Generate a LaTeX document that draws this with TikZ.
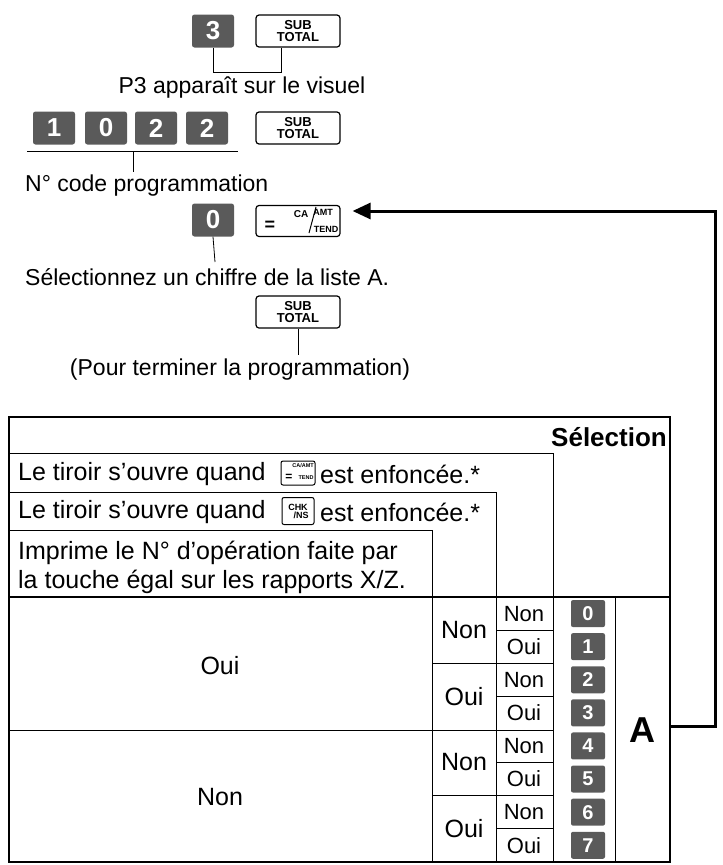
\documentclass[tikz,border=0pt]{standalone}
\usepackage{fontspec}
\setmainfont{Liberation Sans}
\usetikzlibrary{arrows.meta}
\definecolor{keyg}{HTML}{5A5A5A}
\newcommand\apos{\symbol{39}}
\tikzset{
  dkey/.style={fill=keyg,rounded corners=2.5pt,text=white,font=\bfseries\fontsize{26}{26}\selectfont,minimum width=42pt,minimum height=33pt,inner sep=0pt},
  tkey/.style={fill=keyg,rounded corners=2pt,text=white,font=\bfseries\fontsize{20}{20}\selectfont,minimum width=34pt,minimum height=27pt,inner sep=0pt},
  fkey/.style={draw,line width=1.2pt,rounded corners=3pt,minimum width=84pt,minimum height=32pt,inner sep=0pt,align=center,font=\bfseries\fontsize{13}{12.5}\selectfont},
  lbl/.style={font=\fontsize{23}{29}\selectfont,inner sep=0pt},
  tlb/.style={font=\fontsize{25}{29}\selectfont,inner sep=0pt},
  tl/.style={line width=0.8pt},
  tb/.style={line width=1.4pt}
}
\begin{document}
\begin{tikzpicture}[x=1pt,y=-1pt]
\useasboundingbox (0,0) rectangle (723,865);
% step 1
\node[dkey] (k3) at (213,31) {3};
\node[fkey] (s1) at (298,31) {SUB\\TOTAL};
\node[lbl] (t1) at (242,88) {P3 apparaît sur le visuel};
\coordinate (b1) at (213,72); \coordinate (b2) at (281,72);
\draw[tl] (k3.south) -- (b1) -- (b2) -- (b2|-s1.south);
% step 2
\node[dkey] (k1) at (54,128) {1};
\node[dkey] (k0) at (106,128) {0};
\node[dkey] (k2a) at (156,128) {2};
\node[dkey] (k2b) at (207,128) {2};
\node[fkey] (s2) at (298,128) {SUB\\TOTAL};
\coordinate (u1) at (27,151); \coordinate (u2) at (238,151);
\coordinate (um) at (133,151); \coordinate (ud) at (133,172);
\draw[tl] (u1) -- (u2); \draw[tl] (um) -- (ud);
\node[lbl,anchor=west] (t2) at (25,186) {N° code programmation};
% step 3
\node[dkey] (kz) at (213,220) {0};
\node[draw,line width=1.2pt,rounded corners=3pt,minimum width=84pt,minimum height=31pt,inner sep=0pt] (ca) at (298,221) {};
\node[font=\bfseries\fontsize{18}{18}\selectfont,inner sep=0pt] (eq) at (270,226) {=};
\node[font=\bfseries\fontsize{10}{10}\selectfont,inner sep=0pt] (cat) at (301,214) {CA};
\node[font=\bfseries\fontsize{9}{9}\selectfont,inner sep=0pt] (amt) at (323,212) {AMT};
\node[font=\bfseries\fontsize{9}{9}\selectfont,inner sep=0pt] (tend) at (326,229) {TEND};
\coordinate (sl1) at (309,233); \coordinate (sl2) at (316,207);
\draw[line width=1pt] (sl1) -- (sl2);
\coordinate (v3) at (215,262);
\draw[tl] (kz.south) -- (v3);
\node[lbl,anchor=west] (t3) at (25,277) {Sélectionnez un chiffre de la liste A.};
% step 4
\node[fkey] (s4) at (298,312) {SUB\\TOTAL};
\coordinate (v4) at (298,355);
\draw[tl] (s4.south) -- (v4);
\node[lbl] (t4) at (240,370) {(Pour terminer la programmation)};
% table
\coordinate (TL) at (9,417); \coordinate (BR) at (670,862);
\draw[tl] (9,453) -- (553,453) -- (553,597);
\draw[tl] (9,492) -- (496,492) -- (496,862);
\draw[tl] (9,530) -- (432,530) -- (432,862);
\draw[tb] (9,597) -- (670,597);
\draw[tl] (9,730) -- (553,730);
\draw[tl] (553,597) -- (553,862);
\draw[tl] (615,597) -- (615,862);
\foreach \i in {1,3,5,7} \draw[tl] (496,{597+\i*33.1}) -- (553,{597+\i*33.1});
\foreach \i in {2,6} \draw[tl] (432,{597+\i*33.1}) -- (553,{597+\i*33.1});
\draw[tb] (TL) rectangle (BR);
\node[font=\bfseries\fontsize{26}{26}\selectfont,anchor=east,inner sep=0pt] (sel) at (667,437) {Sélection};
\node[tlb,anchor=west] (r1) at (18,474) {Le tiroir s\apos ouvre quand};
\node[draw,line width=1pt,rounded corners=2pt,minimum width=34pt,minimum height=24pt,inner sep=0pt] (ck1) at (298,473) {};
\node[font=\bfseries\fontsize{12}{12}\selectfont,inner sep=0pt] (ck1e) at (289,477) {=};
\node[font=\bfseries\fontsize{5.5}{5.5}\selectfont,inner sep=0pt] (ck1t) at (303,466) {CA/AMT};
\node[font=\bfseries\fontsize{5.5}{5.5}\selectfont,inner sep=0pt] (ck1u) at (306,478) {TEND};
\node[tlb,anchor=west] (r1b) at (320,474) {est enfoncée.*};
\node[tlb,anchor=west] (r2) at (18,512) {Le tiroir s\apos ouvre quand};
\node[draw,line width=1pt,rounded corners=2pt,minimum width=32pt,minimum height=27pt,inner sep=0pt,align=center,font=\bfseries\fontsize{9}{9}\selectfont] (ck2) at (298,511) {CHK\\[-1pt]\hspace*{6pt}/NS};
\node[tlb,anchor=west] (r2b) at (320,512) {est enfoncée.*};
\node[tlb,anchor=north west,align=left] (r3) at (18,541) {Imprime le N° d\apos opération faite par\\la touche égal sur les rapports X/Z.};
\node[tlb] (oui) at (220,666) {Oui};
\node[tlb] (non) at (220,797) {Non};
\foreach \i/\t in {0/Non,1/Oui,2/Non,3/Oui} {
  \node[tlb] (m\i) at (464,{597+(2*\i+1)*33.1}) {\t};
}
\foreach \i/\t in {0/Non,1/Oui,2/Non,3/Oui,4/Non,5/Oui,6/Non,7/Oui} {
  \node[font=\fontsize{22}{22}\selectfont,inner sep=0pt] (n\i) at (524,{597+(\i+0.5)*33.1}) {\t};
  \node[tkey] (d\i) at (588,{597+(\i+0.5)*33.1}) {\i};
}
\node[font=\bfseries\fontsize{36}{36}\selectfont,inner sep=0pt] (A) at (642,730) {A};
% arrow
\coordinate (a0) at (670,726); \coordinate (a1) at (715,726); \coordinate (a2) at (715,211);
\draw[line width=3pt,-{Triangle[length=18pt,width=16pt]}] (a0) -- (a1) -- (a2) -- ([xshift=12pt]ca.east|-a2);
\end{tikzpicture}
\end{document}
